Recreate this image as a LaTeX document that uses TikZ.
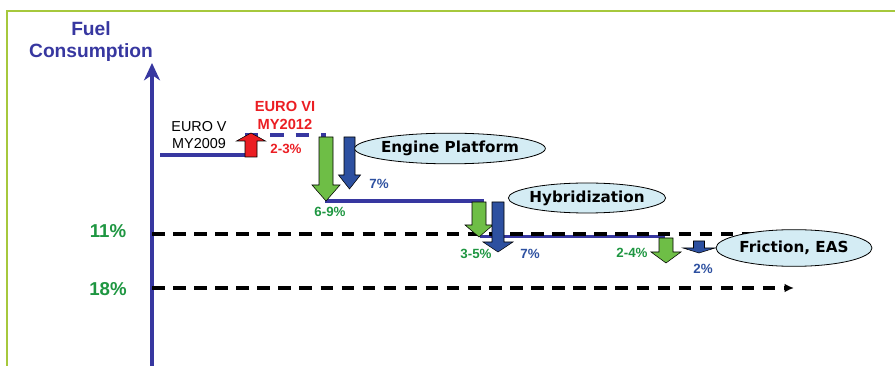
\documentclass[tikz,border=0pt]{standalone}
\usepackage{fontspec}
\setmainfont{Liberation Sans}
\newfontfamily\verafont{DejaVu Sans}
\usetikzlibrary{arrows.meta,shapes.geometric}

\definecolor{framegreen}{RGB}{166,200,60}
\definecolor{axisblue}{RGB}{55,55,160}
\definecolor{stepblue}{RGB}{45,80,160}
\definecolor{stepgreen}{RGB}{110,190,70}
\definecolor{pctgreen}{RGB}{30,150,65}
\definecolor{eurored}{RGB}{235,30,35}
\definecolor{bubblefill}{RGB}{212,236,244}

% block arrow: colour, x, tail y, head y, tip y, shaft half width, head half width
\newcommand{\blockarrow}[7]{%
  \filldraw[fill=#1, draw=black, line width=0.4pt]
    (#2-#6,#3) -- (#2+#6,#3) -- (#2+#6,#4) -- (#2+#7,#4) -- (#2,#5)
    -- (#2-#7,#4) -- (#2-#6,#4) -- cycle;}

\tikzset{
  level/.style={axisblue, line width=2.4pt},
  target/.style={black, line width=2.4pt, dash pattern=on 9.4pt off 6.4pt,
    -{Latex[length=7pt,width=6.5pt]}},
  bubble/.style={ellipse, draw=black, fill=bubblefill, line width=0.6pt,
    inner xsep=-6pt, inner ysep=0pt,
    font=\verafont\bfseries\fontsize{11.4}{13}\selectfont},
  pct/.style={font=\bfseries\fontsize{10}{12}\selectfont},
  bigpct/.style={pctgreen, font=\bfseries\fontsize{14}{16}\selectfont},
}

\begin{document}
\begin{tikzpicture}[x=0.75pt,y=-0.75pt]
  \useasboundingbox (0,0) rectangle (895,366);
  \draw [framegreen, line width=1.6pt] (7,366) -- (7,11) -- (895,11);

  % axis
  \coordinate (origin) at (152,366);
  \coordinate (top) at (152,63);
  \draw [axisblue, line width=2.4pt, -{Stealth[length=13pt,width=12pt,inset=4pt]}] (origin) -- (top);
  \node [axisblue, align=center, font=\bfseries\fontsize{14.4}{16.5}\selectfont] (ylabel) at (91,42) {Fuel\\Consumption};

  % fuel consumption levels
  \coordinate (euro5a) at (160,155);
  \coordinate (euro5b) at (245,155);
  \coordinate (euro6a) at (245,135);
  \coordinate (euro6b) at (326,135);
  \coordinate (enga) at (325,201);
  \coordinate (engb) at (484,201);
  \coordinate (hyba) at (480,236.5);
  \coordinate (hybb) at (665,236.5);
  \draw [level] (euro5a) -- (euro5b);
  \draw [level, dash pattern=on 10pt off 9pt] (euro6a) -- (euro6b);
  \draw [level] (enga) -- (engb);
  \draw [level] (hyba) -- (hybb);

  % targets
  \coordinate (t11a) at (152,234);
  \coordinate (t11b) at (794,234);
  \coordinate (t18a) at (152,288);
  \coordinate (t18b) at (794,288);
  \draw [target] (t11a) -- (t11b);
  \draw [target] (t18a) -- (t18b);
  \node [bigpct] (p11) at (108,231) {11\%};
  \node [bigpct] (p18) at (108,289) {18\%};

  % steps
  \blockarrow{eurored}{251}{157}{141}{133}{6}{14.5}
  \blockarrow{stepgreen}{326}{137}{185}{201}{7}{14}
  \blockarrow{stepblue}{349.5}{137}{175}{189}{5.5}{11}
  \blockarrow{stepgreen}{479}{202}{225}{237}{7}{14}
  \blockarrow{stepblue}{498}{202}{242}{252}{6}{15}
  \blockarrow{stepgreen}{666}{238}{252}{263}{7}{15}
  \blockarrow{stepblue}{699}{241}{248}{253}{5.5}{16}

  \node [font=\fontsize{10.8}{13}\selectfont, align=center] (euro5) at (199,135) {EURO V\\MY2009};
  \node [eurored, font=\bfseries\fontsize{11}{13.5}\selectfont, align=center] (euro6) at (285,115) {EURO VI\\MY2012};
  \node [pct, eurored] (p23) at (286,149) {2-3\%};
  \node [pct, pctgreen] (p69) at (330,212) {6-9\%};
  \node [pct, stepblue] (p7a) at (379,184) {7\%};
  \node [pct, pctgreen] (p35) at (476,254) {3-5\%};
  \node [pct, stepblue] (p7b) at (530,254) {7\%};
  \node [pct, pctgreen] (p24) at (632,253) {2-4\%};
  \node [pct, stepblue] (p2) at (703,269) {2\%};

  \node [bubble, minimum width=143pt, minimum height=23pt] (engine) at (450,148.5) {Engine Platform};
  \node [bubble, minimum width=118pt, minimum height=22.5pt] (hybrid) at (587,198) {Hybridization};
  \node [bubble, minimum width=117pt, minimum height=27.5pt] (friction) at (794,248) {Friction, EAS};
\end{tikzpicture}
\end{document}
